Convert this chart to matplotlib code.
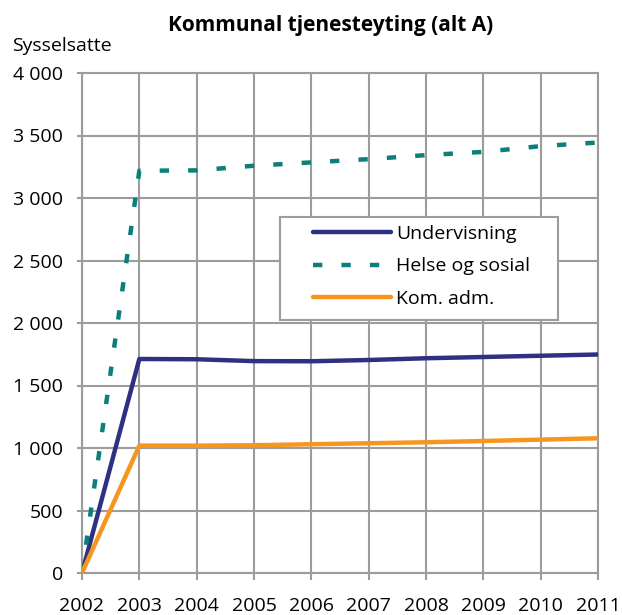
import matplotlib
matplotlib.use('Agg')
import matplotlib.pyplot as plt
from matplotlib.patches import Rectangle
from matplotlib.ticker import FuncFormatter, MultipleLocator

plt.rcParams['font.family'] = ['Open Sans', 'DejaVu Sans']

years = [2002, 2003, 2004, 2005, 2006, 2007, 2008, 2009, 2010, 2011]
undervisning = [0, 1712, 1710, 1695, 1694, 1704, 1718, 1728, 1738, 1748]
helse_sosial = [0, 3218, 3221, 3258, 3285, 3311, 3343, 3369, 3415, 3444]
kom_adm = [0, 1019, 1019, 1022, 1030, 1038, 1046, 1056, 1067, 1078]
labels = ['Undervisning', 'Helse og sosial', 'Kom. adm.']

W, H = 622, 615
fig = plt.figure(figsize=(W / 100, H / 100), dpi=100)
ax = fig.add_axes([82 / W, 1 - 573 / H, 516 / W, 500 / H])

grid_col = '#9c9c9c'
lw = 3.2
ax.plot(years, undervisning, color='#2e3182', lw=lw, label=labels[0],
        solid_capstyle='round', zorder=3)
ax.plot(years, helse_sosial, color='#0b7f79', lw=lw, label=labels[1],
        linestyle=(0, (2.1, 4.3)), dash_capstyle='butt', zorder=3)
ax.plot(years, kom_adm, color='#f7961f', lw=lw, label=labels[2],
        solid_capstyle='round', zorder=3)

ax.set_xlim(2002, 2011)
ax.set_ylim(0, 4000)
ax.set_xticks(years)
ax.yaxis.set_major_locator(MultipleLocator(500))
ax.yaxis.set_major_formatter(FuncFormatter(lambda v, p: f'{v:,.0f}'.replace(',', ' ')))
ax.grid(True, color=grid_col, lw=1.5, zorder=1)
ax.set_axisbelow(True)
for s in ax.spines.values():
    s.set_color(grid_col)
    s.set_linewidth(1.5)
ax.tick_params(axis='x', length=5, width=1.5, color=grid_col, pad=12.5, labelsize=14)
ax.tick_params(axis='y', length=3.6, width=1.5, color=grid_col, pad=10, labelsize=14)

# legend box
ax.add_patch(Rectangle((198 / 516, (573 - 320) / 500), 278 / 516, 103 / 500,
                       transform=ax.transAxes, facecolor='white',
                       edgecolor=grid_col, lw=1.5, zorder=4))
leg = ax.legend(loc='upper left', bbox_to_anchor=((313 - 82) / 516, (573 - 225) / 500),
                frameon=False, borderpad=0, borderaxespad=0, fontsize=14,
                handlelength=4.0, handletextpad=0.26, labelspacing=0.74)
leg.set_zorder(5)

fig.text(331 / W, 1 - 31 / H, 'Kommunal tjenesteyting (alt A)', ha='center',
         va='baseline', fontsize=15, fontweight='bold')
fig.text(12 / W, 1 - 51 / H, 'Sysselsatte', ha='left', va='baseline', fontsize=14)

fig.savefig('out.png', dpi=100)
